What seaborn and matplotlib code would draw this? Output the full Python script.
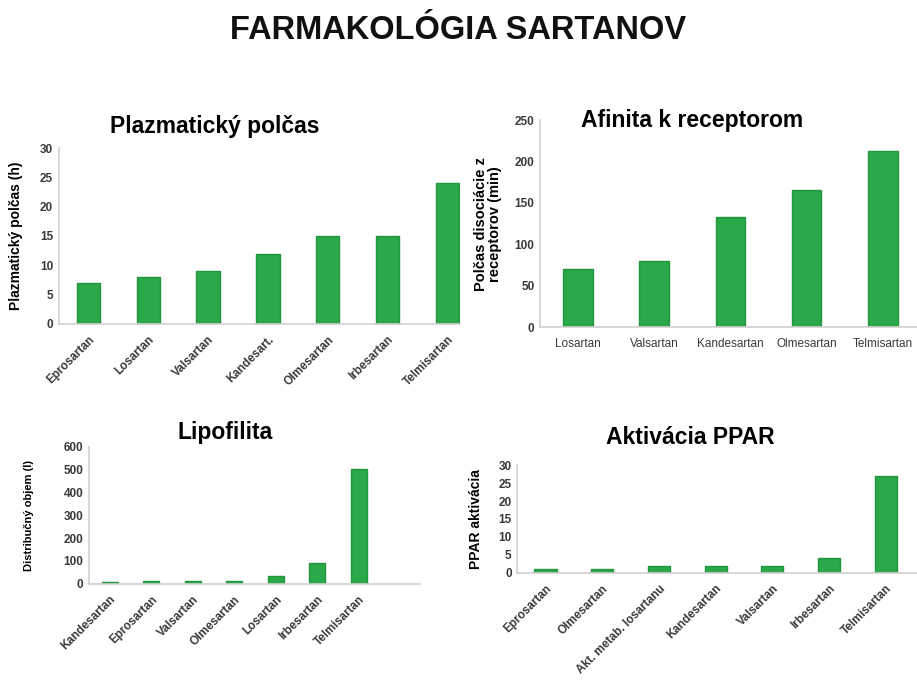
import matplotlib
matplotlib.use('Agg')
import matplotlib.pyplot as plt
import seaborn as sns
import pandas as pd

# data
polcas_lieky = ['Eprosartan', 'Losartan', 'Valsartan', 'Kandesart.', 'Olmesartan', 'Irbesartan', 'Telmisartan']
polcas_hodnoty = [7, 8, 9, 12, 15, 15, 24]

afinita_lieky = ['Losartan', 'Valsartan', 'Kandesartan', 'Olmesartan', 'Telmisartan']
afinita_hodnoty = [70, 80, 133, 166, 213]

lipo_lieky = ['Kandesartan', 'Eprosartan', 'Valsartan', 'Olmesartan', 'Losartan', 'Irbesartan', 'Telmisartan']
lipo_hodnoty = [9, 12, 14, 14, 34, 92, 500]

ppar_lieky = ['Eprosartan', 'Olmesartan', 'Akt. metab. losartanu', 'Kandesartan', 'Valsartan', 'Irbesartan', 'Telmisartan']
ppar_hodnoty = [1, 1, 2, 2, 2, 4, 27]

sns.set_theme(style='white')
plt.rcParams['font.family'] = ['Liberation Sans', 'DejaVu Sans']

green = '#2aa84a'
edge = '#23953f'
spine_col = '#d0d0d0'
tick_col = '#3a3a3a'

fig = plt.figure(figsize=(9.17, 6.86), dpi=100)

def panel(rect, names, vals, ylim, step, xmax, ylabel, rot, bold):
    ax = fig.add_axes(rect)
    df = pd.DataFrame({'liek': names, 'hodnota': vals})
    sns.barplot(data=df, x='liek', y='hodnota', color=green, width=0.39,
                edgecolor=edge, linewidth=1, saturation=1, ax=ax)
    ax.set_xlim(-0.5, xmax)
    ax.set_ylim(0, ylim)
    ax.set_yticks(range(0, ylim + 1, step))
    ax.set_xlabel('')
    ax.set_ylabel(ylabel, fontsize=10, fontweight='bold', color='black', linespacing=1.0)
    sns.despine(ax=ax)
    for s in ['left', 'bottom']:
        ax.spines[s].set_color(spine_col)
        ax.spines[s].set_linewidth(1.2)
    ax.tick_params(axis='both', length=0, pad=4, colors=tick_col)
    w = 'bold' if bold else 'normal'
    for lab in ax.get_yticklabels():
        lab.set_fontsize(8.5)
        lab.set_fontweight('bold')
    for lab in ax.get_xticklabels():
        lab.set_fontsize(8.5)
        lab.set_fontweight(w)
        if rot:
            lab.set_rotation(45)
            lab.set_ha('right')
            lab.set_rotation_mode('anchor')
    return ax

ax1 = panel([0.064, 0.528, 0.438, 0.256], polcas_lieky, polcas_hodnoty, 30, 5, 6.22,
            'Plazmatický polčas (h)', True, True)
ax1.yaxis.set_label_coords(-0.09, 0.5)
ax1.tick_params(axis='x', pad=7)

ax2 = panel([0.589, 0.523, 0.411, 0.302], afinita_lieky, afinita_hodnoty, 250, 50, 4.45,
            'Polčas disociácie z\nreceptorov (min)', False, False)
ax2.yaxis.set_label_coords(-0.10, 0.5)
ax2.yaxis.label.set_fontsize(10.5)
ax2.tick_params(axis='x', pad=8)

ax3 = panel([0.097, 0.149, 0.361, 0.200], lipo_lieky, lipo_hodnoty, 600, 100, 7.47,
            'Distribučný objem (l)', True, True)
ax3.yaxis.set_label_coords(-0.165, 0.5)
ax3.yaxis.label.set_fontsize(8)
ax3.tick_params(axis='x', pad=7)

ax4 = panel([0.564, 0.165, 0.436, 0.157], ppar_lieky, ppar_hodnoty, 30, 5, 6.55,
            'PPAR aktivácia', True, True)
ax4.yaxis.set_label_coords(-0.085, 0.5)
ax4.tick_params(axis='x', pad=7)

fig.text(0.5, 0.955, 'FARMAKOLÓGIA SARTANOV', ha='center', va='center', fontsize=23.5,
         fontweight='bold', color='#111111')
fig.text(215 / 917, 1 - 127 / 686, 'Plazmatický polčas', ha='center', va='center', fontsize=16.5, fontweight='bold', color='black')
fig.text(692 / 917, 1 - 120 / 686, 'Afinita k receptorom', ha='center', va='center', fontsize=16.5, fontweight='bold', color='black')
fig.text(225 / 917, 1 - 432 / 686, 'Lipofilita', ha='center', va='center', fontsize=16.5, fontweight='bold', color='black')
fig.text(690 / 917, 1 - 437 / 686, 'Aktivácia PPAR', ha='center', va='center', fontsize=16.5, fontweight='bold', color='black')

fig.savefig('out.png', dpi=100)
